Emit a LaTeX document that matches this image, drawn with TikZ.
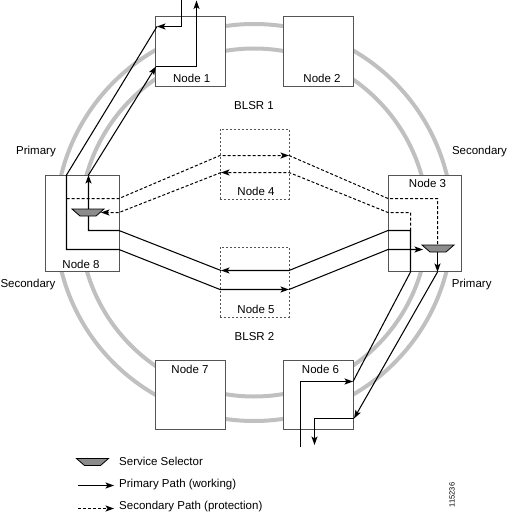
\documentclass[tikz,border=0pt]{standalone}
\usepackage{fontspec}
\setmainfont{Liberation Sans}
\usetikzlibrary{arrows.meta}

\definecolor{ringgray}{RGB}{192,192,192}
\definecolor{boxgray}{RGB}{85,85,85}
\definecolor{selgray}{RGB}{140,140,140}

\tikzset{
  ring/.style={line width=4pt, draw=ringgray},
  nodebox/.style={draw=boxgray, line width=0.9pt, fill=white, inner sep=0pt},
  transitbox/.style={draw=boxgray, line width=0.7pt, dash pattern=on 2.2pt off 1.8pt, inner sep=0pt},
  primary/.style={line width=1.05pt},
  secondary/.style={line width=1pt, dash pattern=on 3pt off 2pt},
  selector/.style={fill=selgray, draw=black, line width=0.8pt},
  lbl/.style={inner sep=0pt, font=\fontsize{11.5}{13}\selectfont},
}

\begin{document}
\begin{tikzpicture}[x=1pt, y=-1pt, >={Stealth[length=8.5pt,width=6pt,inset=2pt]}]
  \useasboundingbox (0,0) rectangle (508,513);
  % two rings behind the nodes
  \draw[ring] (254,222.5) circle[radius=198.5pt];
  \draw[ring] (254,222.5) circle[radius=174pt];

  \node[nodebox, minimum width=70pt, minimum height=70pt] (n1) at (190.9,51) {};
  \node[nodebox, minimum width=70pt, minimum height=70pt] (n2) at (318.8,51) {};
  \node[nodebox, minimum width=73.6pt, minimum height=96pt] (n8) at (82.5,223) {};
  \node[nodebox, minimum width=73.6pt, minimum height=96pt] (n3) at (424.9,223) {};
  \node[nodebox, minimum width=70pt, minimum height=68.5pt] (n7) at (190.9,395) {};
  \node[nodebox, minimum width=70pt, minimum height=68.5pt] (n6) at (318.7,395) {};
  \node[transitbox, minimum width=69.3pt, minimum height=69.7pt] (n4) at (254.7,164.2) {};
  \node[transitbox, minimum width=69.3pt, minimum height=69.7pt] (n5) at (254.7,282) {};

  \node[lbl] (n1lbl) at (191.7,78) {Node 1};
  \node[lbl] (n2lbl) at (322,78) {Node 2};
  \node[lbl] (n8lbl) at (81,264) {Node 8};
  \node[lbl] (n3lbl) at (427.5,183) {Node 3};
  \node[lbl] (n4lbl) at (256,191) {Node 4};
  \node[lbl] (n5lbl) at (256,309) {Node 5};
  \node[lbl] (n7lbl) at (190,369) {Node 7};
  \node[lbl] (n6lbl) at (320.5,369) {Node 6};
  \node[lbl] (blsr1) at (254,106) {BLSR 1};
  \node[lbl] (blsr2) at (254.5,337) {BLSR 2};
  \node[lbl] (pri8) at (36,152) {Primary};
  \node[lbl] (sec3) at (479.5,152) {Secondary};
  \node[lbl] (sec8) at (28,285) {Secondary};
  \node[lbl] (pri3) at (471.7,285) {Primary};

  % working path, node 1 round to node 6
  \coordinate (wIn) at (181.5,0);
  \coordinate (wA) at (181.5,26.5);
  \coordinate (wB) at (157,26.5);
  \coordinate (wC) at (66.5,175);
  \coordinate (wD) at (66.5,249.5);
  \coordinate (wE) at (119,249.5);
  \coordinate (wF) at (220,289.5);
  \coordinate (wG) at (289,289.5);
  \coordinate (wH) at (388,249.5);
  \coordinate (wI) at (423,249.5);
  \coordinate (wJ) at (437.5,252);
  \coordinate (wK) at (437.5,272);
  \coordinate (wL) at (354,418.5);
  \coordinate (wM) at (314.5,418.5);
  \coordinate (wOut) at (314.5,445);
  \draw[primary, ->] (wIn) -- (wA) -- (wB);
  \draw[primary, ->] (wB) -- (wC) -- (wD) -- (wE) -- (wF) -- (wG);
  \draw[primary, ->] (wG) -- (wH) -- (wI);
  \draw[primary, ->] (wJ) -- (wK);
  \draw[primary, ->] (wK) -- (wL);
  \draw[primary, ->] (wL) -- (wM) -- (wOut);

  % working path, node 6 back to node 1
  \coordinate (eIn) at (300.5,447);
  \coordinate (eA) at (300.5,381.5);
  \coordinate (eB) at (353,381.5);
  \coordinate (eC) at (410.5,272);
  \coordinate (eD) at (410.5,230.5);
  \coordinate (eE) at (388,230.5);
  \coordinate (eF) at (289,270.5);
  \coordinate (eG) at (221,270.5);
  \coordinate (eH) at (119,230.5);
  \coordinate (eI) at (88.5,230.5);
  \coordinate (eJ) at (88.5,175);
  \coordinate (eK) at (156,66.5);
  \coordinate (eL) at (196.5,66.5);
  \coordinate (eOut) at (196.5,0.5);
  \draw[primary, ->] (eIn) -- (eA) -- (eB);
  \draw[primary, ->] (eB) -- (eC) -- (eD) -- (eE) -- (eF) -- (eG);
  \draw[primary, ->] (eG) -- (eH) -- (eI) -- (eJ);
  \draw[primary, ->] (eJ) -- (eK);
  \draw[primary, ->] (eK) -- (eL) -- (eOut);

  % protection paths through node 4
  \coordinate (uA) at (66.5,198.5);
  \coordinate (uB) at (119,198.5);
  \coordinate (uC) at (220,155.5);
  \coordinate (uD) at (289,155.5);
  \coordinate (uE) at (388,198.5);
  \coordinate (uF) at (437.5,198.5);
  \coordinate (uG) at (437.5,245);
  \draw[secondary, ->] (uA) -- (uB) -- (uC) -- (uD);
  \draw[secondary] (uD) -- (uE) -- (uF) -- (uG);
  \coordinate (lB) at (410.5,212.5);
  \coordinate (lC) at (388,212.5);
  \coordinate (lD) at (289,172.5);
  \coordinate (lE) at (221,172.5);
  \coordinate (lF) at (119,212.5);
  \coordinate (lG) at (101,212.5);
  \draw[secondary, ->] (eD) -- (lB) -- (lC) -- (lD) -- (lE);
  \draw[secondary, ->] (lE) -- (lF) -- (lG);

  % service selectors
  \coordinate (s8) at (88,212.5);
  \coordinate (s3) at (438,248.5);
  \filldraw[selector, shift={(s8)}] (-16,-3.5) -- (16,-3.5) -- (8,3.5) -- (-8,3.5) -- cycle;
  \filldraw[selector, shift={(s3)}] (-16,-3.5) -- (16,-3.5) -- (8,3.5) -- (-8,3.5) -- cycle;

  % legend
  \coordinate (legSel) at (92.5,462);
  \filldraw[selector, shift={(legSel)}] (-16,-3.5) -- (16,-3.5) -- (8,3.5) -- (-8,3.5) -- cycle;
  \coordinate (legPa) at (78,485.5);
  \coordinate (legPb) at (114,485.5);
  \draw[primary, ->] (legPa) -- (legPb);
  \coordinate (legSa) at (78,508.5);
  \coordinate (legSb) at (114,508.5);
  \draw[secondary, ->] (legSa) -- (legSb);
  \node[lbl, anchor=west] (legSelTxt) at (119,461) {Service Selector};
  \node[lbl, anchor=west] (legPriTxt) at (119,485) {Primary Path (working)};
  \node[lbl, anchor=west] (legSecTxt) at (119,507) {Secondary Path (protection)};
  \node[inner sep=0pt, rotate=90, font=\fontsize{7.5}{9}\selectfont] (figno) at (452,495) {115236};
\end{tikzpicture}
\end{document}
